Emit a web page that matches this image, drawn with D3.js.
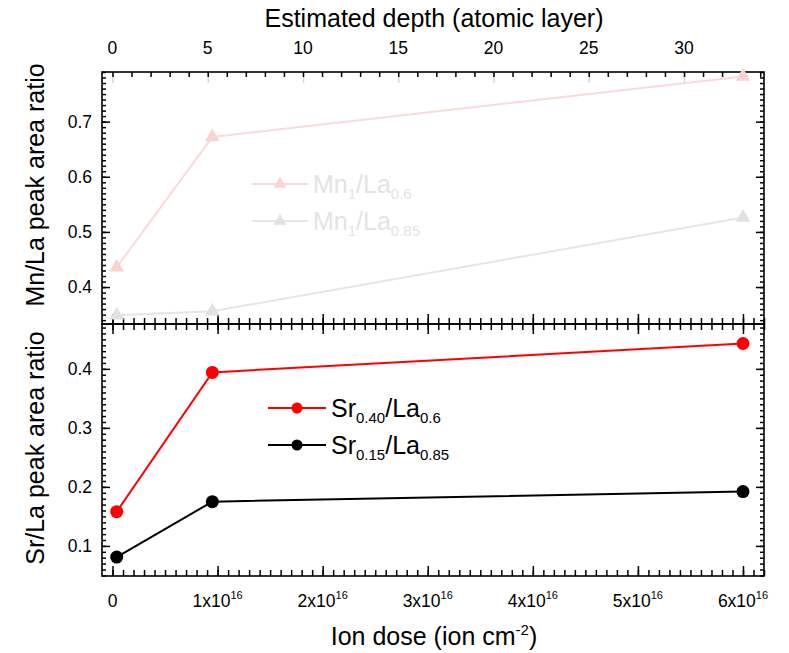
<!DOCTYPE html>
<html>
<head>
<meta charset="utf-8">
<script src="https://cdn.jsdelivr.net/npm/d3@7"></script>
<style>
  html, body { margin: 0; padding: 0; background: #fff; }
  svg { display: block; font-family: "Liberation Sans", Arial, sans-serif; }
</style>
</head>
<body>
<svg id="chart" width="789" height="653"></svg>
<script>
// Ion dose (units of 1e16 ion/cm^2) for each measurement
const dose = [0.04, 0.95, 6.0];

// Upper panel: Mn/La peak area ratio
const mnLa06 = [0.436, 0.672, 0.782];
const mnLa085 = [0.349, 0.356, 0.526];

// Lower panel: Sr/La peak area ratio
const srLa06 = [0.158, 0.394, 0.443];
const srLa085 = [0.081, 0.175, 0.192];

// Tick values
const doseMajor = [0, 1, 2, 3, 4, 5, 6];
const depthLabels = [0, 5, 10, 15, 20, 25, 30];
const mnMajor = [0.4, 0.5, 0.6, 0.7];
const srMajor = [0.1, 0.2, 0.3, 0.4];

const svg = d3.select("#chart");

const L = 102, R = 764, T = 72, M = 324, B = 576;

const x = d3.scaleLinear().domain([-0.1, 6.2]).range([L, R]);
const depth = d3.scaleLinear().domain([-0.55, 34.2]).range([L, R]);
const yTop = d3.scaleLinear().domain([0.333, 0.790]).range([M, T]);
const yBot = d3.scaleLinear().domain([0.049, 0.476]).range([B, M]);

const range = (a, b, s) => d3.range(Math.round(a / s), Math.round(b / s) + 1).map(i => +(i * s).toFixed(4));

function ticks(g, axisFn, scale, values, size, color) {
  const a = axisFn(scale).tickValues(values).tickSize(size).tickFormat("");
  const sel = g.append("g").call(a);
  sel.select(".domain").remove();
  sel.selectAll(".tick line").attr("stroke", color || "#000").attr("stroke-width", 1.5);
  sel.selectAll(".tick text").remove();
  return sel;
}

// ---------- Upper panel ----------
const gTop = svg.append("g");
// left / right
ticks(gTop.append("g").attr("transform", `translate(${L},0)`), d3.axisLeft, yTop, range(0.34, 0.79, 0.01), -4);
ticks(gTop.append("g").attr("transform", `translate(${L},0)`), d3.axisLeft, yTop, mnMajor, -8);
ticks(gTop.append("g").attr("transform", `translate(${R},0)`), d3.axisRight, yTop, range(0.34, 0.79, 0.01), -4);
ticks(gTop.append("g").attr("transform", `translate(${R},0)`), d3.axisRight, yTop, mnMajor, -8);
// top depth axis
ticks(gTop.append("g").attr("transform", `translate(0,${T})`), d3.axisTop, depth, depthLabels, -11, "#d8d8d8");
ticks(gTop.append("g").attr("transform", `translate(0,${T})`), d3.axisTop, depth, d3.range(0, 35), -5);
// bottom dose axis of upper panel (ticks pointing up)
ticks(gTop.append("g").attr("transform", `translate(0,${M})`), d3.axisBottom, x, range(-0.1, 6.2, 0.1).filter(v => v >= 0), -6);
ticks(gTop.append("g").attr("transform", `translate(0,${M})`), d3.axisBottom, x, doseMajor, -10);

// ---------- Lower panel ----------
const gBot = svg.append("g");
ticks(gBot.append("g").attr("transform", `translate(${L},0)`), d3.axisLeft, yBot, range(0.05, 0.47, 0.01), -4);
ticks(gBot.append("g").attr("transform", `translate(${L},0)`), d3.axisLeft, yBot, srMajor, -8);
ticks(gBot.append("g").attr("transform", `translate(${R},0)`), d3.axisRight, yBot, range(0.05, 0.47, 0.01), -4);
ticks(gBot.append("g").attr("transform", `translate(${R},0)`), d3.axisRight, yBot, srMajor, -8);
// top of lower panel (ticks pointing down)
ticks(gBot.append("g").attr("transform", `translate(0,${M})`), d3.axisTop, x, range(-0.1, 6.2, 0.1).filter(v => v >= 0), -6);
ticks(gBot.append("g").attr("transform", `translate(0,${M})`), d3.axisTop, x, doseMajor, -10);
// bottom dose axis
ticks(gBot.append("g").attr("transform", `translate(0,${B})`), d3.axisBottom, x, range(-0.1, 6.2, 0.1).filter(v => v >= 0), -6);
ticks(gBot.append("g").attr("transform", `translate(0,${B})`), d3.axisBottom, x, doseMajor, -10);

// frames
svg.append("rect").attr("x", L).attr("y", T).attr("width", R - L).attr("height", M - T)
  .attr("fill", "none").attr("stroke", "#000").attr("stroke-width", 1.6);
svg.append("rect").attr("x", L).attr("y", M).attr("width", R - L).attr("height", B - M)
  .attr("fill", "none").attr("stroke", "#000").attr("stroke-width", 1.6);

// ---------- Tick labels ----------
const tickFont = 17.5;
svg.append("g").selectAll("text").data(mnMajor).join("text")
  .attr("x", 92).attr("y", d => yTop(d)).attr("dy", "0.36em")
  .attr("text-anchor", "end").attr("font-size", tickFont).text(d => d.toFixed(1));
svg.append("g").selectAll("text").data(srMajor).join("text")
  .attr("x", 92).attr("y", d => yBot(d)).attr("dy", "0.36em")
  .attr("text-anchor", "end").attr("font-size", tickFont).text(d => d.toFixed(1));
svg.append("g").selectAll("text").data(depthLabels).join("text")
  .attr("x", d => depth(d)).attr("y", 54)
  .attr("text-anchor", "middle").attr("font-size", tickFont).text(d => d);

const doseLbl = svg.append("g").selectAll("text").data(doseMajor).join("text")
  .attr("x", d => x(d)).attr("y", 607)
  .attr("text-anchor", "middle").attr("font-size", tickFont);
doseLbl.each(function (d) {
  const t = d3.select(this);
  if (d === 0) { t.text("0"); return; }
  t.append("tspan").text(`${d}x10`);
  t.append("tspan").attr("dy", -8).attr("font-size", 11).text("16");
});

// ---------- Axis titles ----------
const titleFont = 25;
svg.append("text").attr("x", 434).attr("y", 27).attr("text-anchor", "middle")
  .attr("font-size", titleFont).text("Estimated depth (atomic layer)");
const xt = svg.append("text").attr("x", 434).attr("y", 645).attr("text-anchor", "middle")
  .attr("font-size", titleFont);
xt.append("tspan").text("Ion dose (ion cm");
xt.append("tspan").attr("dy", -10).attr("font-size", 15).text("-2");
xt.append("tspan").attr("dy", 10).text(")");
svg.append("text").attr("transform", `translate(44,185) rotate(-90)`)
  .attr("text-anchor", "middle").attr("font-size", titleFont).text("Mn/La peak area ratio");
svg.append("text").attr("transform", `translate(44,448) rotate(-90)`)
  .attr("text-anchor", "middle").attr("font-size", titleFont).text("Sr/La peak area ratio");

// ---------- Data ----------
const tri = d3.symbol().type(d3.symbolTriangle);

function series(yScale, values, lineColor, markColor, marker) {
  const pts = values.map((v, i) => [dose[i], v]);
  const line = d3.line().x(d => x(d[0])).y(d => yScale(d[1]));
  svg.append("path").datum(pts).attr("d", line)
    .attr("fill", "none").attr("stroke", lineColor).attr("stroke-width", 2);
  const g = svg.append("g");
  if (marker === "tri") {
    g.selectAll("path").data(pts).join("path")
      .attr("d", tri.size(95)())
      .attr("transform", d => `translate(${x(d[0])},${yScale(d[1])})`)
      .attr("fill", markColor);
  } else {
    g.selectAll("circle").data(pts).join("circle")
      .attr("cx", d => x(d[0])).attr("cy", d => yScale(d[1])).attr("r", 6.5)
      .attr("fill", markColor);
  }
}

series(yTop, mnLa06, "#fcdada", "#fbd3d3", "tri");
series(yTop, mnLa085, "#e6e6e6", "#e2e2e2", "tri");
series(yBot, srLa06, "#ff0000", "#ff0000", "dot");
series(yBot, srLa085, "#000000", "#000000", "dot");

// ---------- Legends ----------
function legendRow(y, lineColor, markColor, marker, textColor, parts) {
  const g = svg.append("g");
  const x0 = marker === "tri" ? 252 : 268, x1 = marker === "tri" ? 308 : 326;
  g.append("line").attr("x1", x0).attr("x2", x1).attr("y1", y).attr("y2", y)
    .attr("stroke", lineColor).attr("stroke-width", 2);
  if (marker === "tri") {
    g.append("path").attr("d", tri.size(70)()).attr("transform", `translate(${(x0 + x1) / 2},${y})`)
      .attr("fill", markColor);
  } else {
    g.append("circle").attr("cx", (x0 + x1) / 2).attr("cy", y).attr("r", 5.5).attr("fill", markColor);
  }
  const t = g.append("text").attr("x", x1 + 5).attr("y", y + 9)
    .attr("font-size", 25).attr("fill", textColor);
  parts.forEach(([s, sub]) => {
    const ts = t.append("tspan").text(s);
    if (sub) ts.attr("font-size", 15).attr("dy", 6);
    else ts.attr("dy", t.selectAll("tspan").size() > 1 ? -6 : 0);
  });
}

legendRow(184, "#fcdada", "#fbd3d3", "tri", "#e4e4e4", [["Mn"], ["1", true], ["/La"], ["0.6", true]]);
legendRow(221, "#e6e6e6", "#e2e2e2", "tri", "#e4e4e4", [["Mn"], ["1", true], ["/La"], ["0.85", true]]);
legendRow(408, "#ff0000", "#ff0000", "dot", "#000", [["Sr"], ["0.40", true], ["/La"], ["0.6", true]]);
legendRow(445, "#000000", "#000000", "dot", "#000", [["Sr"], ["0.15", true], ["/La"], ["0.85", true]]);
</script>
</body>
</html>
